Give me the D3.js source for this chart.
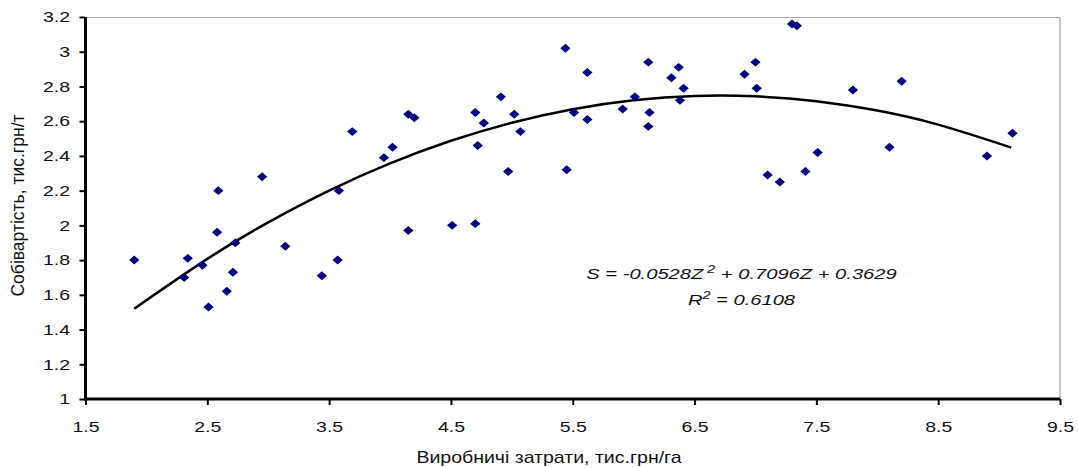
<!DOCTYPE html>
<html lang="uk">
<head>
  <meta charset="UTF-8">
  <title>Собівартість і виробничі затрати</title>
  <script src="https://d3js.org/d3.v7.min.js"></script>
  <style>
    body { margin: 0; background: #fff; }
    text { font-family: Arial, "Liberation Sans", sans-serif; fill: #111; }
  </style>
</head>
<body>
<script>
  const costX = [1.90, 2.31, 2.34, 2.46, 2.51, 2.58, 2.59, 2.66, 2.71, 2.73,
    2.95, 3.14, 3.44, 3.57, 3.58, 3.69, 3.95, 4.02, 4.15, 4.20,
    4.15, 4.51, 4.70, 4.70, 4.72, 4.77, 4.91, 4.97, 5.02, 5.07,
    5.44, 5.45, 5.51, 5.62, 5.62, 5.91, 6.01, 6.12, 6.13, 6.12,
    6.31, 6.37, 6.41, 6.38, 6.91, 7.00, 7.01, 7.10, 7.20, 7.30,
    7.34, 7.41, 7.51, 7.80, 8.10, 8.20, 8.90, 9.11];
  const unitCost = [1.80, 1.70, 1.81, 1.77, 1.53, 1.96, 2.20, 1.62, 1.73, 1.90,
    2.28, 1.88, 1.71, 1.80, 2.20, 2.54, 2.39, 2.45, 2.64, 2.62,
    1.97, 2.00, 2.01, 2.65, 2.46, 2.59, 2.74, 2.31, 2.64, 2.54,
    3.02, 2.32, 2.65, 2.88, 2.61, 2.67, 2.74, 2.94, 2.65, 2.57,
    2.85, 2.91, 2.79, 2.72, 2.87, 2.94, 2.79, 2.29, 2.25, 3.16,
    3.15, 2.31, 2.42, 2.78, 2.45, 2.83, 2.40, 2.53];

  // Trend line (polynomial, as labelled on the chart) read at these points
  const trendX = [1.9, 2.5, 3.0, 3.5, 4.0, 4.5, 5.0, 5.5, 6.0, 6.5, 7.0, 7.5, 8.0, 8.5, 9.1];
  const trendY = [1.520, 1.807, 2.017, 2.200, 2.357, 2.487, 2.591, 2.669, 2.720, 2.745, 2.743, 2.715, 2.661, 2.580, 2.448];

  const xTicks = [1.5, 2.5, 3.5, 4.5, 5.5, 6.5, 7.5, 8.5, 9.5];
  const yTicks = [1, 1.2, 1.4, 1.6, 1.8, 2, 2.2, 2.4, 2.6, 2.8, 3, 3.2];

  const width = 1079, height = 468;
  const margin = {top: 17, right: 19, bottom: 69, left: 85.5};
  const w = width - margin.left - margin.right;
  const h = height - margin.top - margin.bottom;
  const sx = 1.3; // the source picture is stretched sideways

  const svg = d3.select('body').append('svg')
    .attr('width', width)
    .attr('height', height);

  const x = d3.scaleLinear().domain([1.5, 9.5]).range([0, w]);
  const y = d3.scaleLinear().domain([1, 3.2]).range([h, 0]);

  const g = svg.append('g')
    .attr('transform', `translate(${margin.left},${margin.top})`);

  // gray frame on top and right
  g.append('path')
    .attr('d', `M0,0.5H${w}V${h}`)
    .attr('fill', 'none')
    .attr('stroke', '#a0a0a0')
    .attr('stroke-width', 1.2);

  // axes
  const xAxis = g.append('g')
    .attr('transform', `translate(0,${h})`)
    .call(d3.axisBottom(x).tickValues(xTicks).tickSize(6).tickPadding(16)
      .tickFormat(d => String(d)));
  const yAxis = g.append('g')
    .call(d3.axisLeft(y).tickValues(yTicks).tickSize(6).tickPadding(9)
      .tickFormat(d => String(d)));

  [xAxis, yAxis].forEach(a => {
    a.select('.domain').attr('stroke', '#000').attr('stroke-width', 3);
    a.selectAll('.tick line').attr('stroke', '#000').attr('stroke-width', 2);
    a.selectAll('.tick text')
      .style('font-family', 'Arial, "Liberation Sans", sans-serif')
      .style('font-size', '15px')
      .attr('fill', '#111')
      .attr('transform', `scale(${sx},1)`);
  });
  xAxis.select('.domain').attr('d', `M-1.5,0H${w}`);
  yAxis.select('.domain').attr('d', `M0,0V${h}`);
  yAxis.selectAll('.tick text').attr('x', -15.5 / sx);

  // trend line
  const trend = trendX.map((v, i) => [v, trendY[i]]);
  g.append('path')
    .datum(trend)
    .attr('fill', 'none')
    .attr('stroke', '#000')
    .attr('stroke-width', 2.5)
    .attr('d', d3.line().x(d => x(d[0])).y(d => y(d[1])).curve(d3.curveNatural));

  // diamond markers
  const points = costX.map((v, i) => [v, unitCost[i]]);
  g.selectAll('.pt')
    .data(points)
    .join('path')
    .attr('class', 'pt')
    .attr('d', d3.symbol(d3.symbolSquare, 40))
    .attr('transform', d => `translate(${x(d[0])},${y(d[1])}) scale(1.15,1) rotate(45)`)
    .attr('fill', '#000080');

  // equation label
  const eq = svg.append('text')
    .attr('transform', `translate(741.5,279) scale(${sx},1)`)
    .attr('text-anchor', 'middle')
    .style('font-size', '15.5px')
    .style('font-style', 'italic');
  eq.append('tspan').text('S = -0.0528Z');
  eq.append('tspan').attr('dy', -6).style('font-size', '11px').text(' 2');
  eq.append('tspan').attr('dy', 6).text(' + 0.7096Z + 0.3629');

  const r2 = svg.append('text')
    .attr('transform', `translate(741.5,305) scale(${sx},1)`)
    .attr('text-anchor', 'middle')
    .style('font-size', '15.5px')
    .style('font-style', 'italic');
  r2.append('tspan').text('R');
  r2.append('tspan').attr('dy', -6).style('font-size', '11px').text('2');
  r2.append('tspan').attr('dy', 6).text(' = 0.6108');

  // axis titles
  svg.append('text')
    .attr('transform', 'translate(549,463) scale(1.22,1)')
    .attr('text-anchor', 'middle')
    .style('font-size', '16px')
    .text('Виробничі затрати, тис.грн/га');

  svg.append('text')
    .attr('transform', `translate(23.5,205.5) rotate(-90)`)
    .attr('text-anchor', 'middle')
    .style('font-size', '17.5px')
    .text('Собівартість, тис.грн/т');
</script>
</body>
</html>
